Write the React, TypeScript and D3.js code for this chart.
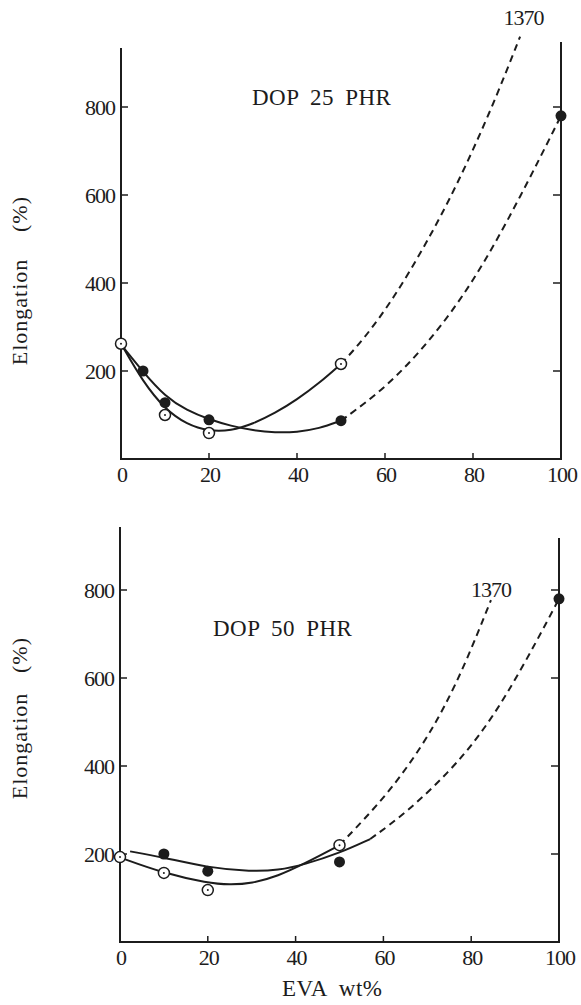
import React from "react";
import * as d3 from "d3";

type P = [number, number];

// ---------- shared axis data ----------
const xTicks = [0, 20, 40, 60, 80, 100];
const yTicks = [200, 400, 600, 800];
const xTitle = "EVA wt%";
const yTitleMain = "Elongation";
const yTitleUnit = "(%)";

// ---------- top panel: DOP 25 PHR ----------
const topTitle = "DOP 25 PHR";
const topNote = "1370";
const topOpenPts: P[] = [[0, 262], [10, 100], [20, 59], [50, 216]];
const topFilledPts: P[] = [[5, 200], [10, 128], [20, 89], [50, 87], [100, 780]];
const topOpenSolid: P[] = [[0, 262], [5, 175], [10, 113], [15, 78], [20, 63], [25, 64], [30, 80], [35, 104], [40, 135], [45, 172], [50, 216]];
const topOpenDashed: P[] = [[50, 216], [55, 270], [62, 365], [69.5, 492], [76, 615], [84, 790], [90.7, 960]];
const topFilledSolid: P[] = [[0.5, 254], [5, 198], [10, 142], [15, 110], [20, 90], [25, 75], [30, 65], [35, 60], [40, 61], [45, 69], [50, 87]];
const topFilledDashed: P[] = [[50, 87], [60, 160], [70, 265], [80, 400], [90, 580], [100, 780]];
const topNoteAt: P = [91, 960];

// ---------- bottom panel: DOP 50 PHR ----------
const botTitle = "DOP 50 PHR";
const botNote = "1370";
const botOpenPts: P[] = [[0, 193], [10, 157], [20, 118], [50, 220]];
const botFilledPts: P[] = [[10, 200], [20, 161], [50, 182], [100, 780]];
const botOpenSolid: P[] = [[0, 192], [10, 156], [20, 134], [25, 130], [30, 133], [36, 150], [42, 178], [50, 220]];
const botOpenDashed: P[] = [[50, 220], [61, 335], [69, 448], [74, 535], [79, 640], [84.5, 777]];
const botFilledSolid: P[] = [[2.3, 206], [10, 192], [20, 169], [30, 160], [36, 163], [42, 176], [50, 202], [57, 234]];
const botFilledDashed: P[] = [[57, 234], [65, 292], [75, 386], [82, 470], [88, 560], [95, 685], [100, 780]];
const botNoteAt: P = [84.5, 777];

const INK = "#1c1c1c";
const FONT = "'Liberation Serif', 'DejaVu Serif', serif";

interface PanelProps {
  x0: number; x1: number; yBase: number; y800: number;
  leftTop: number; rightTop: number;
  title: string; titleX: number; titleY: number;
  note: string; noteAt: P; noteDx: number; noteDy: number;
  openPts: P[]; filledPts: P[];
  openSolid: P[]; openDashed: P[]; filledSolid: P[]; filledDashed: P[];
  yLabelMainY: number; yLabelUnitY: number;
}

function Panel(p: PanelProps) {
  const xs = d3.scaleLinear().domain([0, 100]).range([p.x0, p.x1]);
  const ys = d3.scaleLinear().domain([0, 800]).range([p.yBase, p.y800]);
  const line = d3.line<P>().x(d => xs(d[0])).y(d => ys(d[1])).curve(d3.curveBasis);
  const curves = [
    { d: p.openSolid, dash: "none" },
    { d: p.filledSolid, dash: "none" },
    { d: p.openDashed, dash: "7 5" },
    { d: p.filledDashed, dash: "7 5" },
  ];
  return (
    <g>
      {/* axes */}
      <line x1={p.x0} x2={p.x0} y1={p.yBase + 1} y2={p.leftTop} stroke={INK} strokeWidth={2} />
      <line x1={p.x1} x2={p.x1} y1={p.yBase + 1} y2={p.rightTop} stroke={INK} strokeWidth={2} />
      <line x1={p.x0 - 1} x2={p.x1 + 1} y1={p.yBase} y2={p.yBase} stroke={INK} strokeWidth={2} />
      {yTicks.map(t => (
        <g key={"yt" + t}>
          <line x1={p.x0} x2={p.x0 + 7} y1={ys(t)} y2={ys(t)} stroke={INK} strokeWidth={1.5} />
          <line x1={p.x1} x2={p.x1 - 8} y1={ys(t)} y2={ys(t)} stroke={INK} strokeWidth={1.5} />
          <text x={p.x0 - 6} y={ys(t) + 8} textAnchor="end" fontSize={22} letterSpacing={-1} fill={INK} fontFamily={FONT}>{t}</text>
        </g>
      ))}
      {xTicks.map(t => (
        <g key={"xt" + t}>
          {t > 0 && t < 100 && (
            <line x1={xs(t)} x2={xs(t)} y1={p.yBase} y2={p.yBase - 6} stroke={INK} strokeWidth={1.5} />
          )}
          <text x={xs(t) + 1} y={p.yBase + 23} textAnchor="middle" fontSize={22} letterSpacing={-1} fill={INK} fontFamily={FONT}>{t}</text>
        </g>
      ))}
      {/* y axis title */}
      <text transform={`translate(27,${p.yLabelMainY}) rotate(-90)`} textAnchor="middle" fontSize={22} letterSpacing={1} fill={INK} fontFamily={FONT}>{yTitleMain}</text>
      <text transform={`translate(27,${p.yLabelUnitY}) rotate(-90)`} textAnchor="middle" fontSize={22} letterSpacing={1} fill={INK} fontFamily={FONT}>{yTitleUnit}</text>
      {/* title & note */}
      <text x={p.titleX} y={p.titleY} fontSize={23} wordSpacing={5} letterSpacing={0.5} fill={INK} fontFamily={FONT}>{p.title}</text>
      <text x={xs(p.noteAt[0]) + p.noteDx} y={ys(p.noteAt[1]) + p.noteDy} textAnchor="middle" fontSize={22} letterSpacing={-1} fill={INK} fontFamily={FONT}>{p.note}</text>
      {/* curves */}
      {curves.map((c, i) => (
        <path key={"c" + i} d={line(c.d) || ""} fill="none" stroke={INK} strokeWidth={2} strokeDasharray={c.dash} />
      ))}
      {/* markers */}
      {p.filledPts.map((d, i) => (
        <circle key={"f" + i} cx={xs(d[0])} cy={ys(d[1])} r={5.5} fill={INK} />
      ))}
      {p.openPts.map((d, i) => (
        <g key={"o" + i}>
          <circle cx={xs(d[0])} cy={ys(d[1])} r={5.5} fill="#fff" stroke={INK} strokeWidth={1.5} />
          <circle cx={xs(d[0])} cy={ys(d[1])} r={1} fill={INK} />
        </g>
      ))}
    </g>
  );
}

export default function App() {
  return (
    <svg width={581} height={1005} style={{ position: "absolute", left: 0, top: 0, background: "#fff" }}>
      <rect x={0} y={0} width={581} height={1005} fill="#fff" />
      <Panel
        x0={121} x1={561} yBase={459} y800={107} leftTop={48} rightTop={42}
        title={topTitle} titleX={252} titleY={105}
        note={topNote} noteAt={topNoteAt} noteDx={2} noteDy={-12}
        openPts={topOpenPts} filledPts={topFilledPts}
        openSolid={topOpenSolid} openDashed={topOpenDashed}
        filledSolid={topFilledSolid} filledDashed={topFilledDashed}
        yLabelMainY={312} yLabelUnitY={214}
      />
      <Panel
        x0={120} x1={559} yBase={942} y800={590} leftTop={527} rightTop={538}
        title={botTitle} titleX={213} titleY={636}
        note={botNote} noteAt={botNoteAt} noteDx={0} noteDy={-3}
        openPts={botOpenPts} filledPts={botFilledPts}
        openSolid={botOpenSolid} openDashed={botOpenDashed}
        filledSolid={botFilledSolid} filledDashed={botFilledDashed}
        yLabelMainY={746} yLabelUnitY={655}
      />
      <text x={282} y={996} fontSize={23} wordSpacing={6} letterSpacing={0.5} fill={INK} fontFamily={FONT}>{xTitle}</text>
    </svg>
  );
}
